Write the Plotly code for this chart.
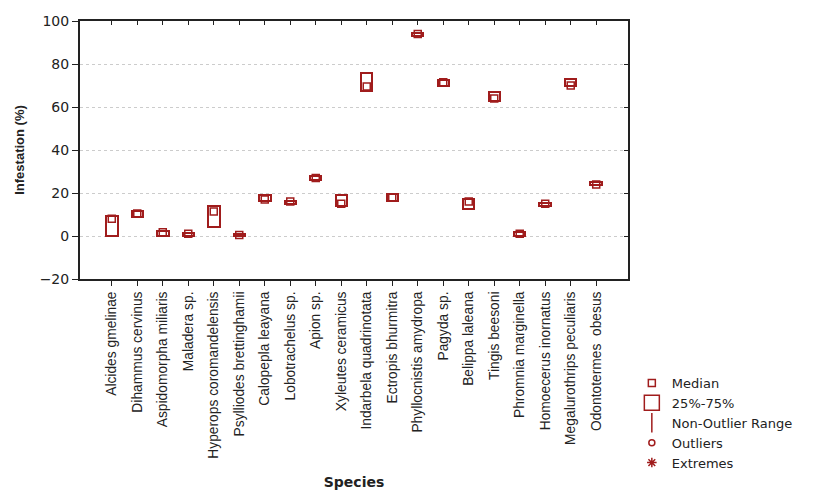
import plotly.graph_objects as go

species = ["Alcides gmelinae", "Dihammus cervinus", "Aspidomorpha miliaris", "Maladera sp.",
           "Hyperops coromandelensis", "Psylliodes brettinghamii", "Calopepla leayana",
           "Lobotrachelus sp.", "Apion sp.", "Xyleutes ceramicus", "Indarbela quadrinotata",
           "Ectropis bhurmitra", "Phyllocnistis amydropa", "Pagyda sp.", "Belippa laleana",
           "Tingis beesoni", "Phromnia marginella", "Homoecerus inornatus",
           "Megalurothrips peculiaris", "Odontotermes  obesus"]
q1 = [0, 9, 0, 0, 4, 0, 16.5, 15, 26, 14, 67.5, 16.5, 93, 70, 12.5, 63, 0, 14, 70, 23.5]
q3 = [9.5, 11.5, 2.5, 1.5, 14, 1, 19, 16.5, 28, 19, 76, 19.5, 94.5, 72.5, 17, 67, 2, 15.5, 73, 25]
median = [8, 10.5, 1.8, 1, 11.4, 0.5, 17, 16, 27, 15, 69.5, 18, 94, 71.5, 16, 64, 1, 15, 70, 24]
y_ticks = [-20, 0, 20, 40, 60, 80, 100]

RED = "#a01c1c"
TXT = "#222222"
NARROW = "Liberation Sans, Arial, sans-serif"
WIDE = "DejaVu Sans, Verdana, sans-serif"

fig = go.Figure()
fig.add_trace(go.Bar(
    x=species, base=q1, y=[b - a for a, b in zip(q1, q3)],
    width=0.45, marker=dict(color="rgba(0,0,0,0)", line=dict(color=RED, width=2)),
    showlegend=False, hoverinfo="skip"))
fig.add_trace(go.Scatter(
    x=species, y=median, mode="markers",
    marker=dict(symbol="square-open", size=7, color=RED, line=dict(width=1.5, color=RED)),
    showlegend=False))
# invisible trace carrying the mirrored (inside-tick) top/right axes
fig.add_trace(go.Scatter(
    x=species, y=median, mode="markers", xaxis="x2", yaxis="y2",
    marker=dict(opacity=0), showlegend=False, hoverinfo="skip"))

legend_items = [("Median", "square-open", 7), ("25%-75%", "square-open", 15),
                ("Non-Outlier Range", "line-ns-open", 14), ("Outliers", "circle-open", 6),
                ("Extremes", "asterisk-open", 8)]
for name, sym, sz in legend_items:
    fig.add_trace(go.Scatter(
        x=[None], y=[None], mode="markers", name=name,
        marker=dict(symbol=sym, size=sz, color=RED, line=dict(width=1.5, color=RED))))

fig.update_layout(
    width=813, height=482,
    margin=dict(l=72, r=193, t=13, b=208),
    plot_bgcolor="white", paper_bgcolor="white",
    font=dict(family=NARROW, size=13, color=TXT),
    bargap=0,
    legend=dict(x=1.007, y=-0.345, xanchor="left", yanchor="top",
                font=dict(size=13, family=WIDE, color=TXT),
                itemsizing="trace", tracegroupgap=0, bgcolor="rgba(0,0,0,0)"),
    xaxis=dict(
        type="category", tickangle=-90, showline=True, linecolor=TXT, linewidth=2,
        mirror=True, ticks="outside", ticklen=5, tickcolor=TXT, showgrid=False,
        automargin=False, categoryorder="array", categoryarray=species,
        tickfont=dict(size=13.8, family=NARROW, color=TXT),
        title=dict(text="<b>Species</b>", font=dict(size=14, family=WIDE, color=TXT),
                   standoff=30)),
    yaxis=dict(
        range=[-20, 100], tickvals=y_ticks, showline=True,
        linecolor=TXT, linewidth=2, mirror=True, ticks="outside", ticklen=6,
        tickcolor=TXT, showgrid=True, gridcolor="#cccccc", griddash="dot", gridwidth=1,
        zeroline=False, automargin=False, tickfont=dict(size=14, family=WIDE, color=TXT),
        title=dict(text="<b>Infestation (%)</b>", font=dict(size=13, family=NARROW, color=TXT),
                   standoff=12)),
    xaxis2=dict(
        overlaying="x", side="top", type="category", categoryorder="array",
        categoryarray=species, matches="x", ticks="inside", ticklen=4, tickcolor=TXT,
        showticklabels=False, showline=False, showgrid=False, automargin=False),
    yaxis2=dict(
        overlaying="y", side="right", matches="y", tickvals=y_ticks, ticks="inside",
        ticklen=4, tickcolor=TXT, showticklabels=False, showline=False, showgrid=False,
        zeroline=False, automargin=False),
)

fig.write_html("out.html")
